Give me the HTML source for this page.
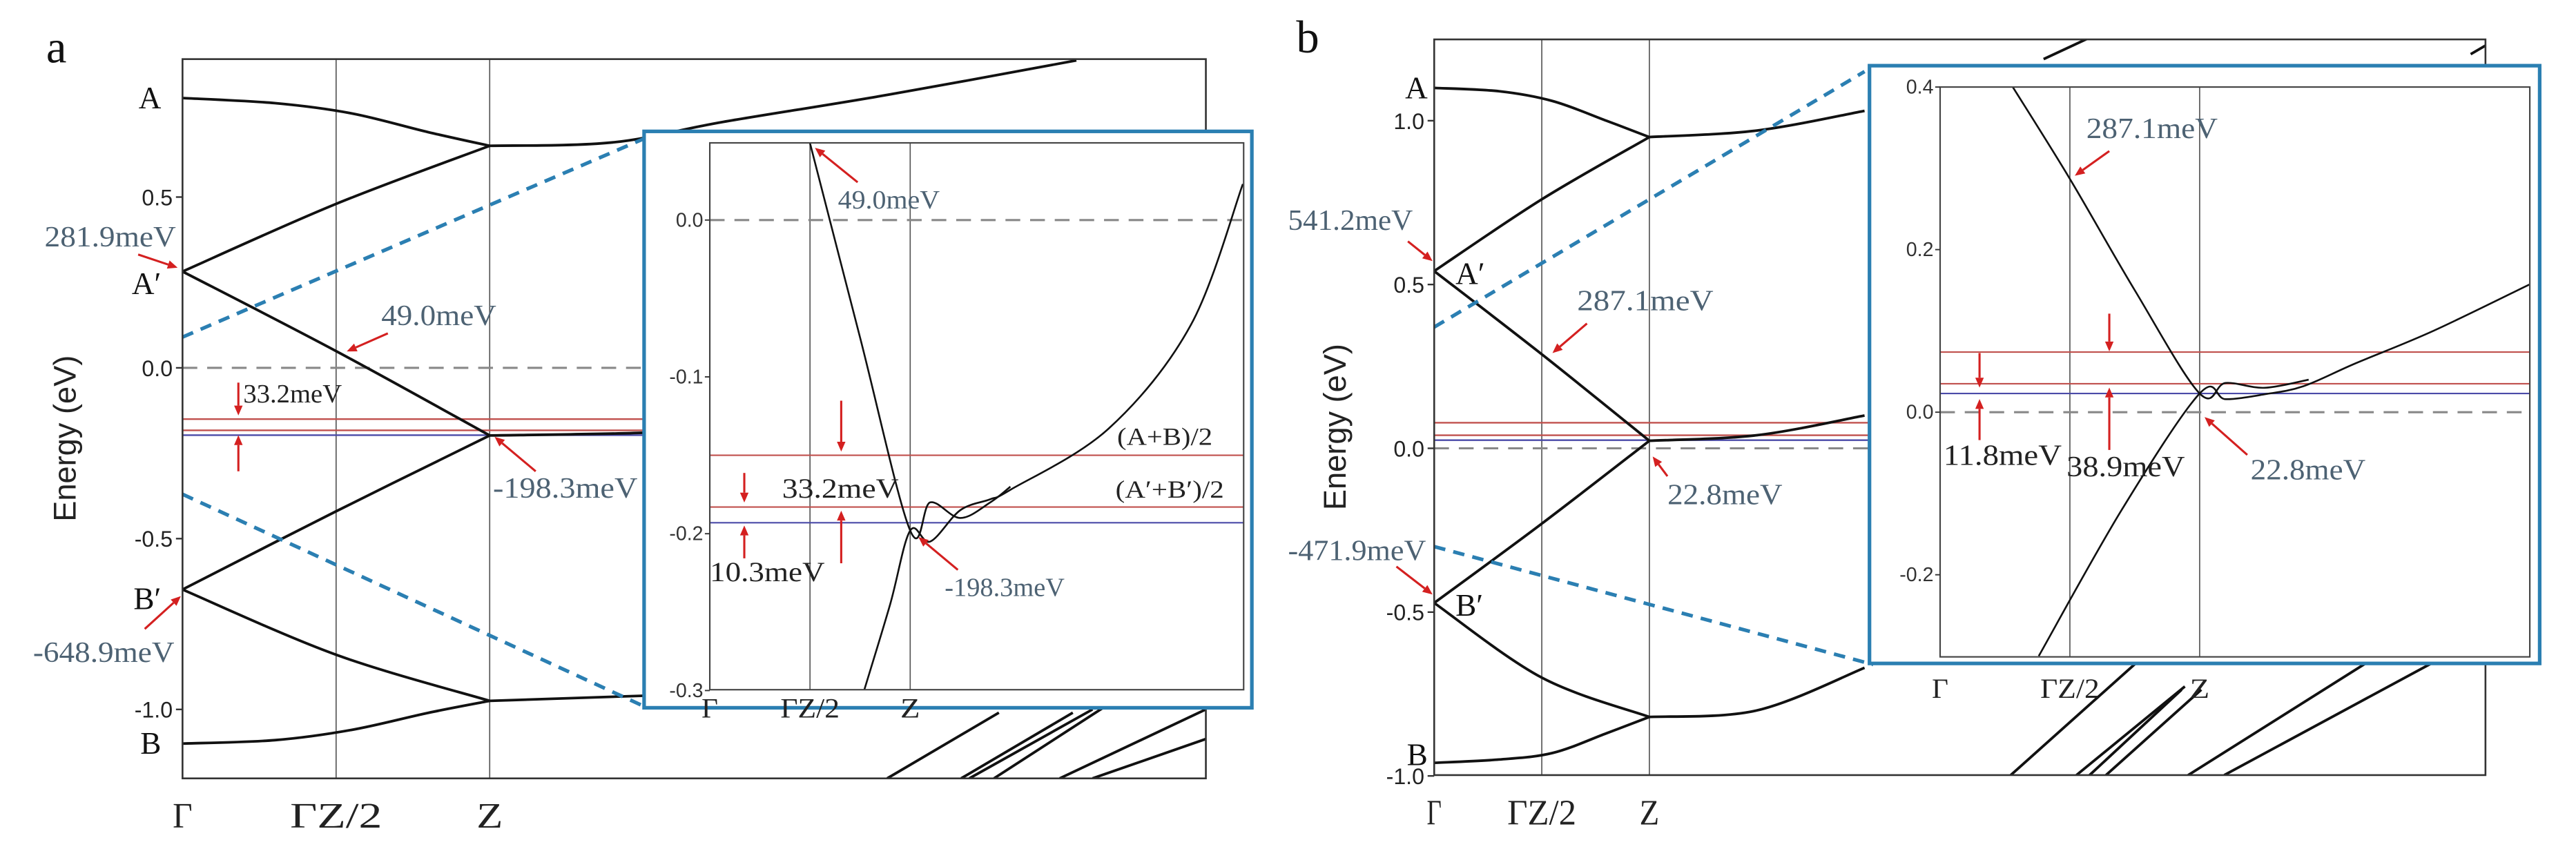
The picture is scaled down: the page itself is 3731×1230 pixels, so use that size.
<!DOCTYPE html>
<html><head><meta charset="utf-8"><style>
html,body{margin:0;padding:0;background:#fff;}
svg{display:block;}
</style></head><body>
<svg id="fig" width="3731" height="1230" viewBox="0 0 1568 517" xmlns="http://www.w3.org/2000/svg"></svg>
<script>
// ---------- data ----------
const kLabels = ["Γ","ΓZ/2","Z"];
const kTicks = [0,0.5,1];
// panel a main bands [k, E(eV)]
const aBandA = [[0,0.79],[0.3,0.775],[0.55,0.745],[0.8,0.69],[1,0.65]];
const aBandAp = [[0,0.282],[0.5,0.48],[1,0.65]];
const aBandUpperR = [[1,0.65],[1.4,0.66],[1.76,0.72],[2.3,0.8],[2.91,0.9]];
const aBandApZ = [[0,0.282],[0.5,0.049],[1,-0.198]];
const aBandBpZ = [[0,-0.649],[0.5,-0.42],[1,-0.198]];
const aBandMidR = [[1,-0.198],[1.5,-0.19],[1.9,-0.17]];
const aBandBpLow = [[0,-0.649],[0.5,-0.84],[1,-0.975]];
const aBandB = [[0,-1.10],[0.3,-1.09],[0.55,-1.06],[0.8,-1.01],[1,-0.975]];
const aBandLowR = [[1,-0.975],[1.5,-0.96]];
const aDashUp = [[0,0.09],[1.5,0.67]];
const aDashDn = [[0,-0.37],[1.5,-0.99]];
const aHLines = [-0.15,-0.183,-0.197];
const aTicks = [0.5,0.0,-0.5,-1.0];
// inset a
const aiL1 = [[0.5,0.049],[0.75,-0.075],[1,-0.198],[1.1,-0.18],[1.25,-0.19],[1.4,-0.18],[1.5,-0.17]];
const aiL2 = [[0.77,-0.3],[0.9,-0.245],[1,-0.198],[1.1,-0.205],[1.25,-0.185],[1.4,-0.178],[1.5,-0.172],[1.99,-0.133],[2.4,-0.067],[2.66,0.023]];
const aiHLines = [-0.15,-0.183,-0.193];
const aiTicks = [0.0,-0.1,-0.2,-0.3];
// panel b main bands
const bBandA = [[0,1.10],[0.3,1.09],[0.55,1.06],[0.8,1.0],[1,0.95]];
const bBandAp = [[0,0.541],[0.5,0.76],[1,0.95]];
const bBandUpperR = [[1,0.95],[1.5,0.97],[2,1.03]];
const bBandApZ = [[0,0.541],[0.5,0.287],[1,0.023]];
const bBandBpZ = [[0,-0.472],[0.5,-0.23],[1,0.023]];
const bBandMidR = [[1,0.023],[1.5,0.04],[2,0.1]];
const bBandBpLow = [[0,-0.472],[0.5,-0.70],[1,-0.82]];
const bBandB = [[0,-0.96],[0.3,-0.95],[0.55,-0.93],[0.8,-0.87],[1,-0.82]];
const bBandLowR = [[1,-0.82],[1.5,-0.8],[2,-0.67]];
const bDashUp = [[0,0.37],[2,1.15]];
const bDashDn = [[0,-0.30],[2.04,-0.66]];
const bHLines = [0.078,0.040,0.025];
const bTicks = [1.0,0.5,0.0,-0.5,-1.0];
// inset b
const biL1 = [[0.28,0.4],[0.5,0.287],[0.75,0.15],[1,0.023],[1.1,0.036],[1.25,0.03],[1.42,0.04]];
const biL2 = [[0.38,-0.3],[0.7,-0.12],[1,0.023],[1.1,0.016],[1.25,0.022],[1.4,0.032],[1.6,0.06],[1.9,0.1],[2.27,0.157]];
const biHLines = [0.074,0.035,0.023];
const biTicks = [0.4,0.2,0.0,-0.2];

// ---------- helpers ----------
const NS="http://www.w3.org/2000/svg";
const svg=document.getElementById('fig');
function mk(tag,attrs,parent){const e=document.createElementNS(NS,tag);for(const k in attrs)e.setAttribute(k,attrs[k]);(parent||svg).appendChild(e);return e;}
function txt(s,x,y,attrs,parent){const e=mk('text',Object.assign({x:x,y:y},attrs),parent);e.textContent=s;return e;}
const SERIF='"Liberation Serif", serif', SANS='"Liberation Sans", sans-serif';
const ANN='#4d6273';
function pathFrom(pts,xs,ys){return pts.map((p,i)=>(i?'L':'M')+xs(p[0]).toFixed(2)+' '+ys(p[1]).toFixed(2)).join(' ');}
function smoothPath(pts,xs,ys){
  const P=pts.map(p=>[xs(p[0]),ys(p[1])]);
  if(P.length<3)return pathFrom(pts,xs,ys);
  let d='M'+P[0][0]+' '+P[0][1];
  for(let i=0;i<P.length-1;i++){
    const p0=P[i-1]||P[i],p1=P[i],p2=P[i+1],p3=P[i+2]||P[i+1];
    const c1=[p1[0]+(p2[0]-p0[0])/6,p1[1]+(p2[1]-p0[1])/6];
    const c2=[p2[0]-(p3[0]-p1[0])/6,p2[1]-(p3[1]-p1[1])/6];
    d+=` C${c1[0]},${c1[1]} ${c2[0]},${c2[1]} ${p2[0]},${p2[1]}`;
  }
  return d;
}
function arrow(x1,y1,x2,y2,name,parent){
  const g=mk('g',{},parent);
  
  
  const a=Math.atan2(y2-y1,x2-x1),L=6,W=2.6;
  const bx=x2-L*Math.cos(a),by=y2-L*Math.sin(a);
  mk('line',{x1:x1,y1:y1,x2:bx,y2:by,stroke:'#d42020','stroke-width':1.3},g);
  mk('polygon',{points:`${x2},${y2} ${bx+W*Math.sin(a)},${by-W*Math.cos(a)} ${bx-W*Math.sin(a)},${by+W*Math.cos(a)}`,fill:'#d42020'},g);
  return g;
}

function drawPanel(cfg){
  const g=mk('g',{});
  
  
  const xs=k=>cfg.x0+k*cfg.kw, ys=E=>cfg.y0-E*cfg.eh;
  const clipId=cfg.name+'-clip';
  const cp=mk('clipPath',{id:clipId},g);mk('rect',{x:cfg.L,y:cfg.T,width:cfg.R-cfg.L,height:cfg.B-cfg.T},cp);
  const inner=mk('g',{'clip-path':`url(#${clipId})`},g);
  kTicks.slice(1).forEach(k=>{const l=mk('line',{x1:xs(k),x2:xs(k),y1:cfg.T,y2:cfg.B,stroke:'#555','stroke-width':0.7},inner);
    });
  const f=mk('line',{x1:cfg.L,x2:cfg.R,y1:ys(0),y2:ys(0),stroke:'#888','stroke-width':1.3,'stroke-dasharray':'9,6'},inner);
  
  cfg.hl.forEach((E,i)=>{const l=mk('line',{x1:cfg.L,x2:cfg.R,y1:ys(E),y2:ys(E),stroke:i<2?'#c0504d':'#4a4aa8','stroke-width':1},inner);
    });
  cfg.bands.forEach(b=>{const p=mk('path',{d:smoothPath(b,xs,ys),fill:'none',stroke:'#111','stroke-width':1.6},inner);
    });
  cfg.extra.forEach(s=>{const p=mk('line',{x1:s[0],y1:s[1],x2:s[2],y2:s[3],stroke:'#111','stroke-width':1.6},inner);
    });
  cfg.dash.forEach(d=>{const p=mk('path',{d:pathFrom(d,xs,ys),fill:'none',stroke:'#2b7fb2','stroke-width':2.2,'stroke-dasharray':'7,5'},inner);
    });
  const fr=mk('rect',{x:cfg.L,y:cfg.T,width:cfg.R-cfg.L,height:cfg.B-cfg.T,fill:'none',stroke:'#333','stroke-width':1.1},g);
  
  cfg.ticks.forEach(E=>{mk('line',{x1:cfg.L-4,x2:cfg.L,y1:ys(E),y2:ys(E),stroke:'#333','stroke-width':1},g);
    const t=txt(E.toFixed(1),cfg.L-6,ys(E)+5,{'font-family':SANS,'font-size':13.5,'text-anchor':'end',fill:'#222'},g);
    });
  const kw=[12,56,16];
  kTicks.forEach((k,i)=>{const t=txt(kLabels[i],xs(k),cfg.B+30,{'font-family':SERIF,'font-size':22,'text-anchor':'middle',fill:'#222',textLength:kw[i]*cfg.kls,lengthAdjust:'spacingAndGlyphs'},g);
    });
  const yl=txt('Energy (eV)',0,0,{'font-family':SANS,'font-size':19,'text-anchor':'middle',fill:'#222',transform:`translate(${cfg.ylx},${(cfg.T+cfg.B)/2+12}) rotate(-90)`},g);
  
  return {g,xs,ys};
}

function drawInset(cfg){
  const g=mk('g',{});
  
  
  const bg=mk('rect',{x:cfg.OL,y:cfg.OT,width:cfg.OR-cfg.OL,height:cfg.OB-cfg.OT,fill:'#fff',stroke:'#2b7fb2','stroke-width':2.2},g);
  
  const xs=k=>cfg.x0+k*cfg.kw, ys=E=>cfg.y0-E*cfg.eh;
  const clipId=cfg.name+'-clip';
  const cp=mk('clipPath',{id:clipId},g);mk('rect',{x:cfg.L,y:cfg.T,width:cfg.R-cfg.L,height:cfg.B-cfg.T},cp);
  const inner=mk('g',{'clip-path':`url(#${clipId})`},g);
  kTicks.slice(1).forEach(k=>{const l=mk('line',{x1:xs(k),x2:xs(k),y1:cfg.T,y2:cfg.B,stroke:'#555','stroke-width':0.7},inner);
    });
  const f=mk('line',{x1:cfg.L,x2:cfg.R,y1:ys(0),y2:ys(0),stroke:'#888','stroke-width':1.3,'stroke-dasharray':'9,6'},inner);
  
  cfg.hl.forEach((E,i)=>{const l=mk('line',{x1:cfg.L,x2:cfg.R,y1:ys(E),y2:ys(E),stroke:i<2?'#c0504d':'#4a4aa8','stroke-width':0.9},inner);
    });
  cfg.bands.forEach(b=>{const p=mk('path',{d:smoothPath(b,xs,ys),fill:'none',stroke:'#111','stroke-width':1.1},inner);
    });
  const fr=mk('rect',{x:cfg.L,y:cfg.T,width:cfg.R-cfg.L,height:cfg.B-cfg.T,fill:'none',stroke:'#444','stroke-width':0.9},g);
  
  cfg.ticks.forEach(E=>{mk('line',{x1:cfg.L-3,x2:cfg.L,y1:ys(E),y2:ys(E),stroke:'#333','stroke-width':0.8},g);
    const t=txt(E.toFixed(1),cfg.L-4,ys(E)+4,{'font-family':SANS,'font-size':12,'text-anchor':'end',fill:'#333'},g);
    });
  const kw=[10,36,12];
  kTicks.forEach((k,i)=>{const t=txt(kLabels[i],xs(k),cfg.B+cfg.xlab,{'font-family':SERIF,'font-size':17,'text-anchor':'middle',fill:'#222',textLength:kw[i],lengthAdjust:'spacingAndGlyphs'},g);
    });
  return {g,xs,ys};
}
function label(s,x,y,size,color,name,anchor,w){
  const a={'font-family':SERIF,'font-size':size,fill:color,'text-anchor':anchor||'start'};
  if(w){a.textLength=w;a.lengthAdjust='spacingAndGlyphs';}
  const t=txt(s,x,y,a);
  return t;}

// ---------- panel a ----------
const pa=drawPanel({name:'panel-a',L:111,R:734,T:36,B:474,x0:111,kw:187,y0:224,eh:208,ylx:46,kls:1,
  hl:aHLines,ticks:aTicks,
  bands:[aBandA,aBandAp,aBandUpperR,aBandApZ,aBandBpZ,aBandMidR,aBandBpLow,aBandB,aBandLowR],
  dash:[aDashUp,aDashDn],
  extra:[[540,474,608,434],[585,474,653,434],[590,474,665,432],[605,474,673,430],[645,474,734,432],[665,474,734,450]]});
label('a',28,38,28,'#111','panel-a-letter');
label('A',98,66,19,'#111','band-label-A','end');
label('A′',98,179,19,'#111','band-label-A-prime','end');
label('B′',98,371,19,'#111','band-label-B-prime','end');
label('B',98,459,19,'#111','band-label-B','end');
label('281.9meV',27,150,18,ANN,'annotation-281-9','start',80);
arrow(84,155,108,163,'arrow-281-9');
label('49.0meV',232,198,18,ANN,'annotation-49-0-main','start',70);
arrow(236,203,211,214,'arrow-49-0-main');
label('33.2meV',148,245,16,'#222','annotation-33-2-main','start',60);
arrow(145,233,145,253,'arrow-33-2-down');
arrow(145,287,145,265,'arrow-33-2-up');
label('-198.3meV',300,303,18,ANN,'annotation-198-3-main','start',88);
arrow(326,287,301,266,'arrow-198-3-main');
label('-648.9meV',20,403,18,ANN,'annotation-648-9','start',86);
arrow(88,383,110,363,'arrow-648-9');

const ia=drawInset({name:'inset-a',OL:392,OR:762,OT:80,OB:431,L:432,R:757,T:87,B:420,x0:432,kw:122,y0:134,eh:955,xlab:17,
  hl:aiHLines,ticks:aiTicks,bands:[aiL1,aiL2]});
label('49.0meV',510,127,16,ANN,'inset-a-annotation-49-0','start',62);
arrow(522,111,496,90,'inset-a-arrow-49-0');
label('(A+B)/2',680,271,15,'#222','label-A-plus-B-half','start',58);
label('(A′+B′)/2',679,303,15,'#222','label-Aprime-plus-Bprime-half','start',66);
label('33.2meV',476,303,17,'#222','inset-a-annotation-33-2','start',71);
arrow(512,244,512,275,'inset-a-arrow-33-2-down');
arrow(512,343,512,311,'inset-a-arrow-33-2-up');
arrow(453,288,453,306,'inset-a-arrow-10-3-down');
arrow(453,340,453,320,'inset-a-arrow-10-3-up');
label('10.3meV',432,354,17,'#222','inset-a-annotation-10-3','start',70);
label('-198.3meV',575,363,16,ANN,'inset-a-annotation-198-3','start',73);
arrow(583,347,559,327,'inset-a-arrow-198-3');

// ---------- panel b ----------
const pb=drawPanel({name:'panel-b',L:873,R:1513,T:24,B:472,x0:873,kw:131,y0:273,eh:199.5,ylx:819,kls:0.75,
  hl:bHLines,ticks:bTicks,
  bands:[bBandA,bBandAp,bBandUpperR,bBandApZ,bBandBpZ,bBandMidR,bBandBpLow,bBandB,bBandLowR],
  dash:[bDashUp,bDashDn],
  extra:[[1244,36,1274,22],[1504,33,1516,26],[1224,472,1300,404],[1264,472,1330,418],[1272,472,1328,420],[1282,472,1340,420],[1332,472,1440,404],[1354,472,1480,404]]});
label('b',789,32,28,'#111','panel-b-letter');
label('A',869,60,19,'#111','band-label-A-b','end');
label('A′',886,173,19,'#111','band-label-A-prime-b');
label('B′',886,375,19,'#111','band-label-B-prime-b');
label('B',869,466,19,'#111','band-label-B-b','end');
label('541.2meV',784,140,18,ANN,'annotation-541-2','start',76);
arrow(857,147,872,159,'arrow-541-2');
label('287.1meV',960,189,18,ANN,'annotation-287-1-main','start',83);
arrow(966,197,945,215,'arrow-287-1-main');
label('22.8meV',1015,307,18,ANN,'annotation-22-8-main','start',70);
arrow(1015,290,1006,278,'arrow-22-8-main');
label('-471.9meV',784,341,18,ANN,'annotation-471-9','start',84);
arrow(850,345,872,362,'arrow-471-9');

const ib=drawInset({name:'inset-b',OL:1138,OR:1546,OT:40,OB:404,L:1181,R:1540,T:53,B:400,x0:1181,kw:158,y0:251,eh:495,xlab:25,
  hl:biHLines,ticks:biTicks,bands:[biL1,biL2]});
label('287.1meV',1270,84,18,ANN,'inset-b-annotation-287-1','start',80);
arrow(1284,92,1263,107,'inset-b-arrow-287-1');
arrow(1205,215,1205,236,'inset-b-arrow-11-8-down');
arrow(1205,268,1205,243,'inset-b-arrow-11-8-up');
arrow(1284,191,1284,214,'inset-b-arrow-38-9-down');
arrow(1284,274,1284,236,'inset-b-arrow-38-9-up');
label('11.8meV',1183,283,18,'#222','inset-b-annotation-11-8','start',72);
label('38.9meV',1258,290,18,'#222','inset-b-annotation-38-9','start',72);
label('22.8meV',1370,292,18,ANN,'inset-b-annotation-22-8','start',70);
arrow(1368,277,1342,254,'inset-b-arrow-22-8');
</script>
</body></html>
